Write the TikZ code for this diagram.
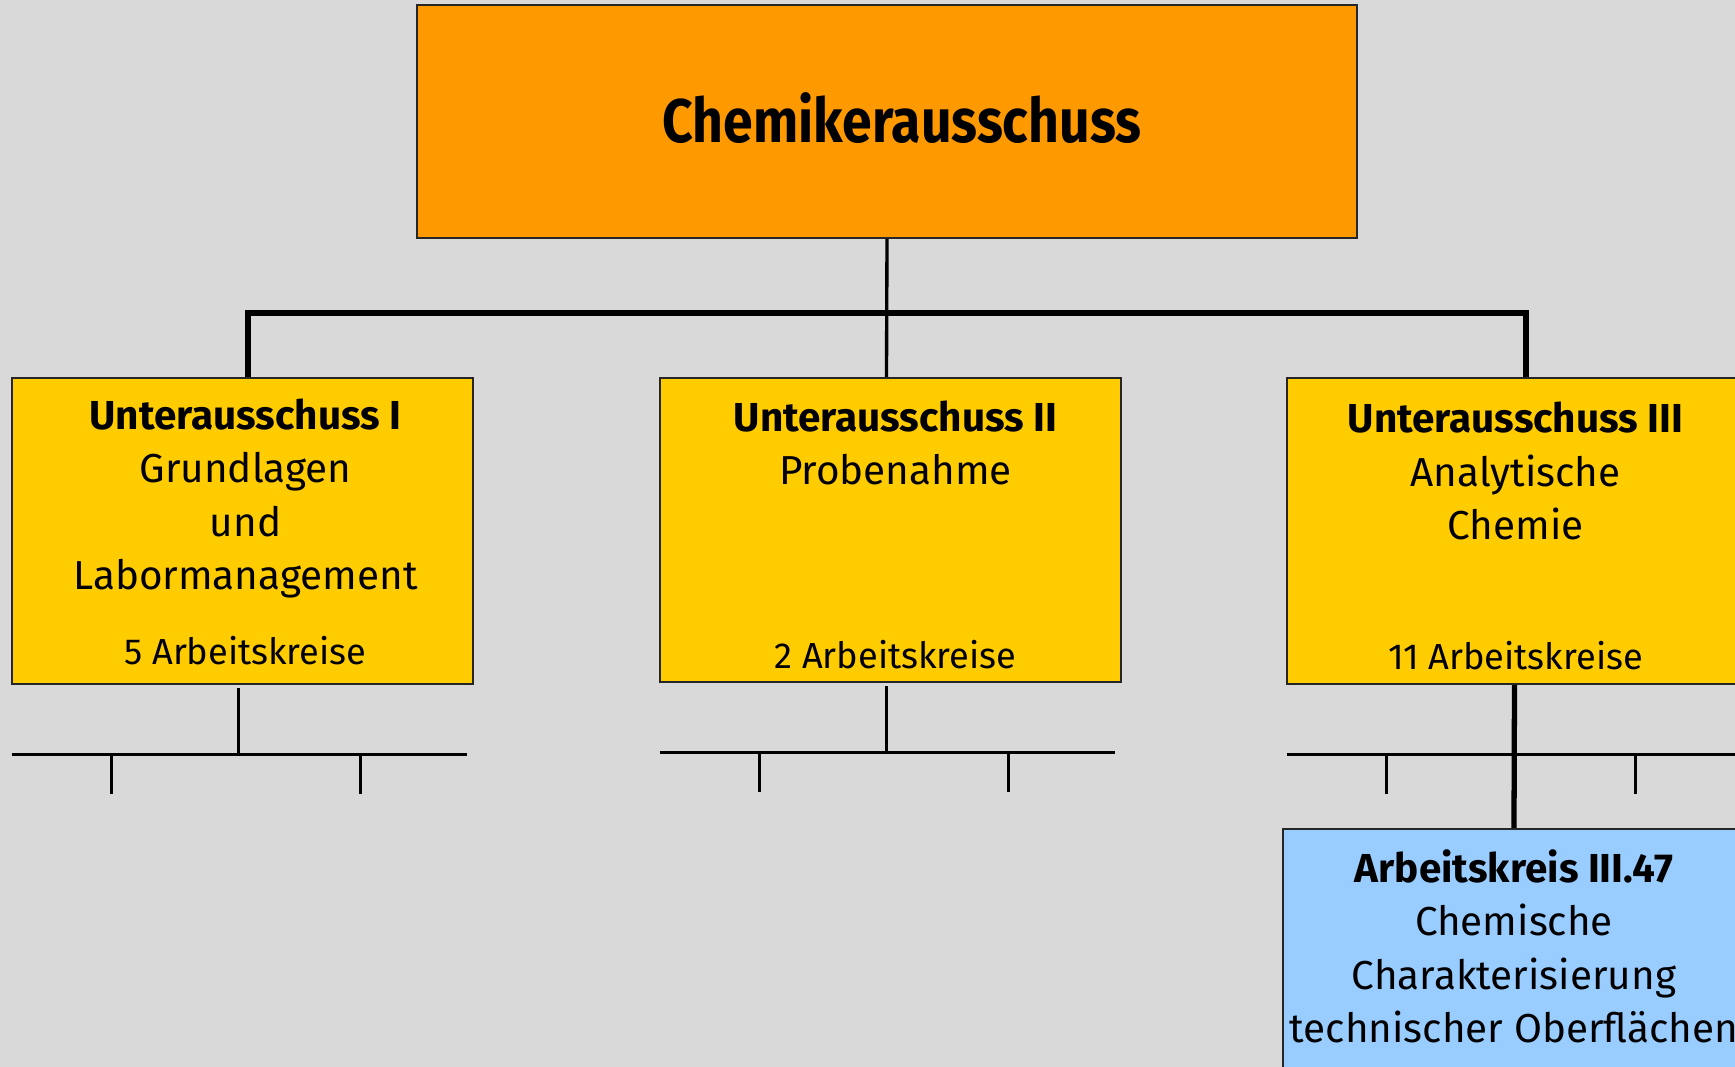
\documentclass[tikz,border=0pt]{standalone}
\usepackage{fontspec}
\setmainfont{Fira Sans}
\usetikzlibrary{calc}

\definecolor{bggray}{RGB}{217,217,217}
\definecolor{chemorange}{RGB}{255,153,0}
\definecolor{uayellow}{RGB}{255,204,0}
\definecolor{akblue}{RGB}{153,204,255}

\tikzset{
  box/.style={draw=black!85, line width=0.6pt, inner sep=0pt,
    minimum width=4.61cm, minimum height=3.06cm},
  uabox/.style={box, fill=uayellow},
  label/.style={inner sep=0pt, anchor=base, align=center,
    font=\fontsize{11.5}{15.2}\selectfont},
  count/.style={inner sep=0pt, anchor=base, font=\fontsize{10.3}{12}\selectfont},
  link/.style={line width=0.95pt},
  bus/.style={line width=1.5pt},
  stub/.style={line width=0.85pt}
}

\begin{document}
\begin{tikzpicture}[x=0.01cm,y=-0.01cm]
    \fill[bggray] (0,0) rectangle (1735,1067);
    \clip (0,0) rectangle (1735,1067);

    % Hauptausschuss
    \node[box, fill=chemorange, minimum width=9.4cm, minimum height=2.33cm] (ca) at (887,121.5) {};
    \node[inner sep=0pt, anchor=base, font=\fontsize{17.5}{20}\selectfont\bfseries] (catitle)
        at ($(ca.center)+(15,21.5)$) {\scalebox{0.87}[1]{Chemikerausschuss}};

    % Unterausschuesse
    \node[uabox] (u1) at (242.5,531) {};
    \node[uabox, minimum height=3.04cm] (u2) at (890.5,530) {};
    \node[uabox] (u3) at (1517.5,531) {};
    \node[box, fill=akblue, minimum width=4.62cm, minimum height=3.01cm] (ak) at (1514,979.5) {};

    % base = Grundlinie der letzten Zeile
    \node[label] (u1text) at ($(u1.north)+(3,213)$) {\textbf{Unterausschuss I}\\Grundlagen\\und\\Labormanagement};
    \node[count] (u1count) at ($(u1.south)+(3,-21)$) {5 Arbeitskreise};
    \node[label] (u2text) at ($(u2.north)+(5,108)$) {\textbf{Unterausschuss II}\\Probenahme};
    \node[count] (u2count) at ($(u2.south)+(5,-15)$) {2 Arbeitskreise};
    \node[label] (u3text) at ($(u3.north)+(-2,163)$) {\textbf{Unterausschuss III}\\Analytische\\Chemie};
    \node[count] (u3count) at ($(u3.south)+(-2,-16)$) {11 Arbeitskreise};
    \node[label] (aktext) at ($(ak.north)+(0,215)$) {\textbf{Arbeitskreis III.47}\\Chemische\\Charakterisierung\\technischer Oberfl\"achen};

    % Verbindungen
    \coordinate (bus) at ($(ca.south)+(0,74)$);
    \draw[link] (ca.south) -- ([xshift=-0.04cm]u2.north);
    \draw[bus] ([xshift=0.055cm]u1.north) |- (bus) -| ([xshift=0.085cm]u3.north);
    \draw[bus] ([xshift=-0.03cm]u3.south) -- (ak.north);

    % Arbeitskreise (angedeutet)
    \foreach \b in {u1,u2,u3} {
        \draw[stub] ($(\b.south west)+(1,69)$) -- ($(\b.south east)+(-7,69)$);
        \draw[stub] ($(\b.south)+(-131,69)$) -- ++(0,40);
        \draw[stub] ($(\b.south)+(118,69)$) -- ++(0,40);
    }
    \foreach \b in {u1,u2}
        \draw[stub] ($(\b.south)+(-4,3)$) -- ++(0,66);
\end{tikzpicture}
\end{document}
